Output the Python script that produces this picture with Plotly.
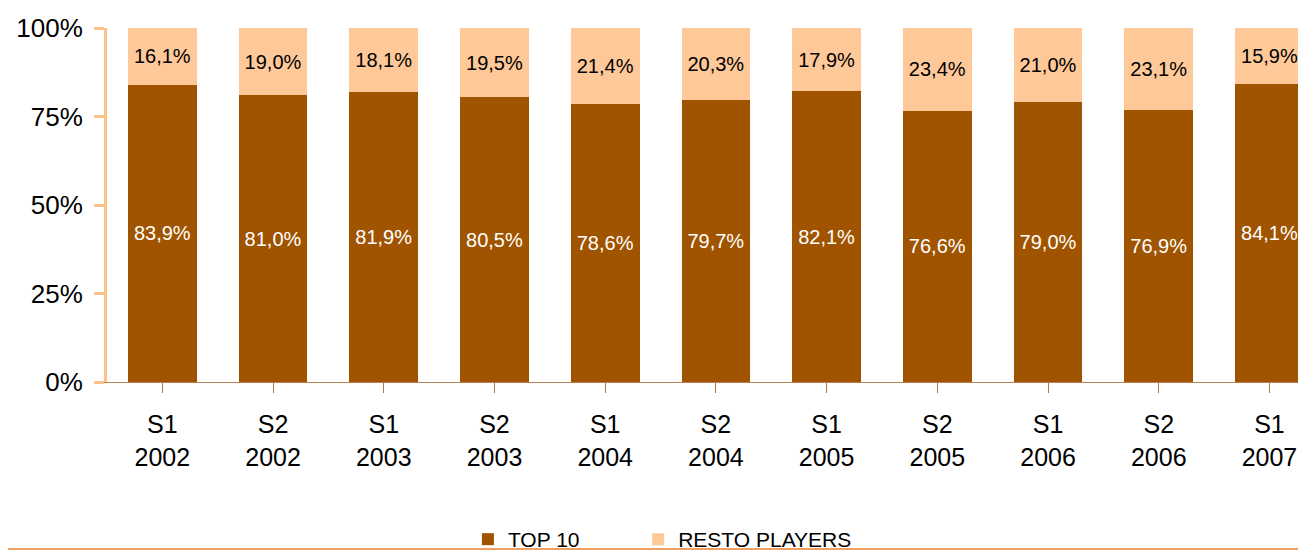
import plotly.graph_objects as go

categories = ["S1<br>2002", "S2<br>2002", "S1<br>2003", "S2<br>2003", "S1<br>2004", "S2<br>2004",
              "S1<br>2005", "S2<br>2005", "S1<br>2006", "S2<br>2006", "S1<br>2007"]
top10 = [83.9, 81.0, 81.9, 80.5, 78.6, 79.7, 82.1, 76.6, 79.0, 76.9, 84.1]
resto = [16.1, 19.0, 18.1, 19.5, 21.4, 20.3, 17.9, 23.4, 21.0, 23.1, 15.9]
y_ticks = [0, 25, 50, 75, 100]
y_ticktext = ["0%", "25%", "50%", "75%", "100%"]


def fmt(v):
    return f"{v:.1f}".replace(".", ",") + "%"


FONT = "Liberation Sans, Arial, sans-serif"
x_idx = list(range(len(categories)))

fig = go.Figure()
fig.add_trace(go.Bar(
    x=x_idx, y=top10, name="TOP 10", marker_color="#A05400", width=0.62,
    marker_line_width=0, legend="legend", showlegend=True,
    text=[fmt(v) for v in top10], textposition="inside", insidetextanchor="middle",
    textfont=dict(color="white", size=20, family=FONT), textangle=0,
))
fig.add_trace(go.Bar(
    x=x_idx, y=resto, name="RESTO PLAYERS", marker_color="#FFC899", width=0.62,
    marker_line_width=0, legend="legend2", showlegend=True,
    text=[fmt(v) for v in resto], textposition="inside", insidetextanchor="middle",
    textfont=dict(color="black", size=20, family=FONT), textangle=0,
))

leg_common = dict(orientation="h", xanchor="left", y=-0.445, yanchor="middle",
                  font=dict(size=21, family=FONT), bgcolor="rgba(0,0,0,0)", visible=True)

fig.update_layout(
    barmode="stack",
    showlegend=True,
    width=1298, height=542,
    margin=dict(l=99, r=0, t=20, b=168, autoexpand=False),
    plot_bgcolor="white", paper_bgcolor="white",
    font=dict(family=FONT, color="black"),
    uniformtext=dict(mode=False),
    legend=dict(x=0.301, **leg_common),
    legend2=dict(x=0.443, **leg_common),
    shapes=[dict(type="line", xref="paper", yref="paper", x0=-0.1, x1=1.0,
                 y0=-0.472, y1=-0.472, line=dict(color="#F0A060", width=2), layer="below")],
)
fig.update_xaxes(
    tickmode="array", tickvals=x_idx, ticktext=categories,
    range=[-0.5, 10.33], showline=True, linecolor="#B88050", linewidth=1,
    ticks="outside", tickson="boundaries", ticklen=10, tickcolor="#B07840",
    tickfont=dict(size=25, family=FONT), ticklabelstandoff=10,
    showgrid=False, zeroline=False, automargin=False,
)
fig.update_yaxes(
    range=[0, 100], tickmode="array", tickvals=y_ticks, ticktext=y_ticktext, showline=True,
    linecolor="#FFC08A", linewidth=3, ticks="outside", ticklen=10, tickcolor="#FFC08A",
    tickwidth=3, tickfont=dict(size=26, family=FONT), ticklabelstandoff=6,
    showgrid=False, zeroline=False, automargin=False,
)

fig.write_html("out.html")
